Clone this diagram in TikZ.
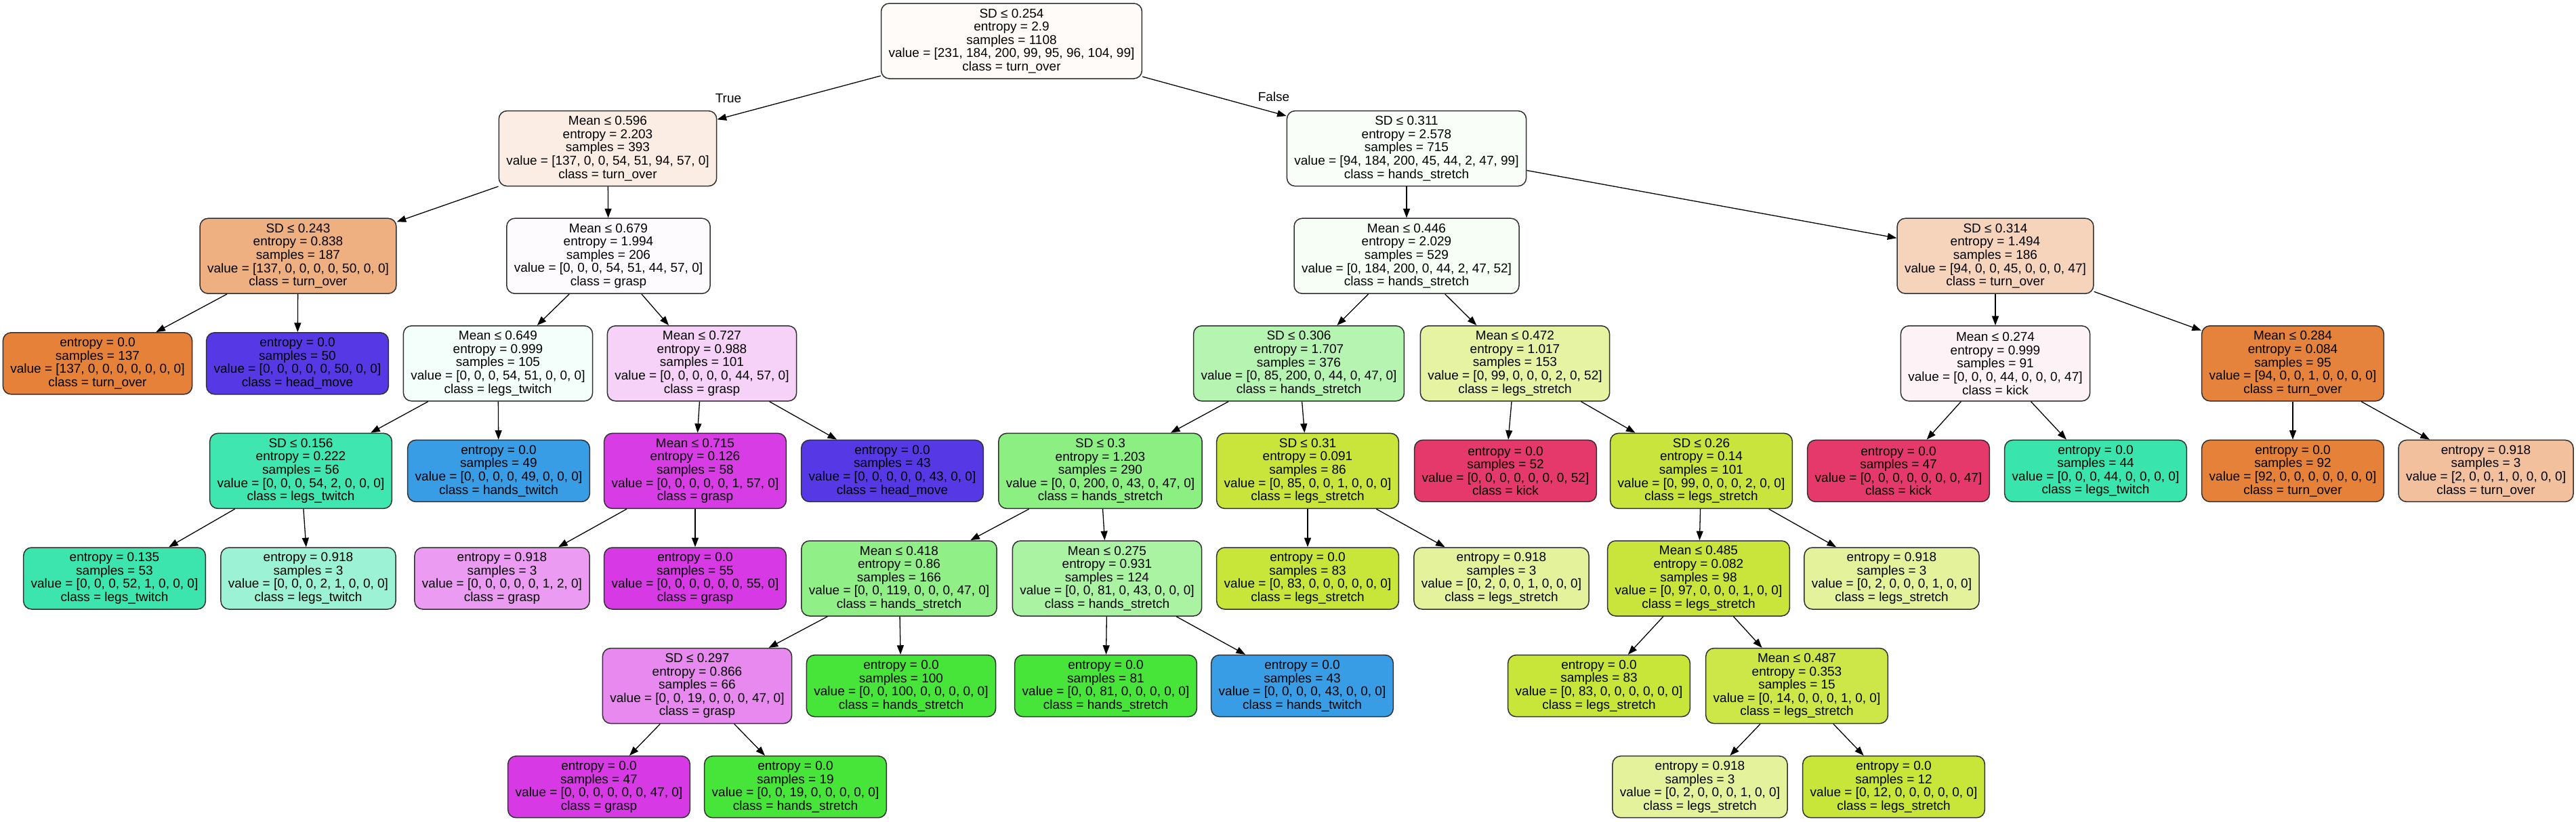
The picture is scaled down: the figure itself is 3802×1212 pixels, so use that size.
\documentclass[tikz,border=0pt]{standalone}
\usepackage{fontspec}
\setmainfont{Liberation Sans}
\usetikzlibrary{arrows.meta}
\definecolor{cR}{HTML}{FEFBF8}
\definecolor{cA}{HTML}{FBEDE3}
\definecolor{cB}{HTML}{F9FEF9}
\definecolor{cC}{HTML}{EEAF81}
\definecolor{cD}{HTML}{FEFBFE}
\definecolor{cE}{HTML}{F6FEF6}
\definecolor{cF}{HTML}{F6D4BC}
\definecolor{turn}{HTML}{E58139}
\definecolor{head}{HTML}{5639E5}
\definecolor{cG}{HTML}{F4FEFA}
\definecolor{cH}{HTML}{F6D2F9}
\definecolor{cI}{HTML}{B6F5B1}
\definecolor{cJ}{HTML}{E5F3A3}
\definecolor{cK}{HTML}{FDF2F6}
\definecolor{cL}{HTML}{E5823B}
\definecolor{cM}{HTML}{40E6AF}
\definecolor{htw}{HTML}{399DE5}
\definecolor{cN}{HTML}{D83CE5}
\definecolor{cO}{HTML}{8BEF82}
\definecolor{cP}{HTML}{C9E53B}
\definecolor{kick}{HTML}{E5396C}
\definecolor{cQ}{HTML}{C9E53D}
\definecolor{ltw}{HTML}{39E5AC}
\definecolor{cS}{HTML}{F2C09C}
\definecolor{cT}{HTML}{3DE5AE}
\definecolor{cU}{HTML}{9CF2D5}
\definecolor{cV}{HTML}{EB9CF2}
\definecolor{grasp}{HTML}{D739E5}
\definecolor{cW}{HTML}{90EF87}
\definecolor{cX}{HTML}{A9F3A2}
\definecolor{lst}{HTML}{C8E539}
\definecolor{cY}{HTML}{E4F29C}
\definecolor{cZ}{HTML}{E789EF}
\definecolor{hst}{HTML}{47E539}
\definecolor{cAA}{HTML}{CCE747}
\definecolor{bord}{HTML}{303030}
\begin{document}
\begin{tikzpicture}[x=0.5pt, y=-0.5pt,
  box/.style={draw=bord, line width=0.75pt, rounded corners=6pt, align=center,
    inner xsep=5.5pt, inner ysep=1pt, font=\fontsize{9.5}{9.8}\selectfont},
  dec/.style={box, minimum height=55.5pt},
  lf/.style={box, minimum height=45.5pt},
  edge/.style={draw=black, line width=0.65pt, -{Triangle[length=6.8pt,width=5pt]}},
  elab/.style={font=\fontsize{9.5}{9.8}\selectfont, inner sep=0pt}]
\path[use as bounding box, fill=white] (0,0) rectangle (3802,1212);

% level 0
\node[dec, fill=cR] (r) at (1493,60.5) {SD ≤ 0.254\\entropy = 2.9\\samples = 1108\\value = [231, 184, 200, 99, 95, 96, 104, 99]\\class = turn\_over};
% level 1
\node[dec, fill=cA] (n1) at (897,219.1) {Mean ≤ 0.596\\entropy = 2.203\\samples = 393\\value = [137, 0, 0, 54, 51, 94, 57, 0]\\class = turn\_over};
\node[dec, fill=cB] (n2) at (2076,219.1) {SD ≤ 0.311\\entropy = 2.578\\samples = 715\\value = [94, 184, 200, 45, 44, 2, 47, 99]\\class = hands\_stretch};
% level 2
\node[dec, fill=cC] (n3) at (440,377.7) {SD ≤ 0.243\\entropy = 0.838\\samples = 187\\value = [137, 0, 0, 0, 0, 50, 0, 0]\\class = turn\_over};
\node[dec, fill=cD] (n4) at (898,377.7) {Mean ≤ 0.679\\entropy = 1.994\\samples = 206\\value = [0, 0, 0, 54, 51, 44, 57, 0]\\class = grasp};
\node[dec, fill=cE] (n5) at (2076,377.7) {Mean ≤ 0.446\\entropy = 2.029\\samples = 529\\value = [0, 184, 200, 0, 44, 2, 47, 52]\\class = hands\_stretch};
\node[dec, fill=cF] (n6) at (2945,377.7) {SD ≤ 0.314\\entropy = 1.494\\samples = 186\\value = [94, 0, 0, 45, 0, 0, 0, 47]\\class = turn\_over};
% level 3
\node[lf, fill=turn] (n7) at (144,536.3) {entropy = 0.0\\samples = 137\\value = [137, 0, 0, 0, 0, 0, 0, 0]\\class = turn\_over};
\node[lf, fill=head] (n8) at (439,536.3) {entropy = 0.0\\samples = 50\\value = [0, 0, 0, 0, 0, 50, 0, 0]\\class = head\_move};
\node[dec, fill=cG] (n9) at (735,536.3) {Mean ≤ 0.649\\entropy = 0.999\\samples = 105\\value = [0, 0, 0, 54, 51, 0, 0, 0]\\class = legs\_twitch};
\node[dec, fill=cH] (n10) at (1036,536.3) {Mean ≤ 0.727\\entropy = 0.988\\samples = 101\\value = [0, 0, 0, 0, 0, 44, 57, 0]\\class = grasp};
\node[dec, fill=cI] (n11) at (1917,536.3) {SD ≤ 0.306\\entropy = 1.707\\samples = 376\\value = [0, 85, 200, 0, 44, 0, 47, 0]\\class = hands\_stretch};
\node[dec, fill=cJ] (n12) at (2236,536.3) {Mean ≤ 0.472\\entropy = 1.017\\samples = 153\\value = [0, 99, 0, 0, 0, 2, 0, 52]\\class = legs\_stretch};
\node[dec, fill=cK] (n13) at (2945,536.3) {Mean ≤ 0.274\\entropy = 0.999\\samples = 91\\value = [0, 0, 0, 44, 0, 0, 0, 47]\\class = kick};
\node[dec, fill=cL] (n14) at (3384,536.3) {Mean ≤ 0.284\\entropy = 0.084\\samples = 95\\value = [94, 0, 0, 1, 0, 0, 0, 0]\\class = turn\_over};
% level 4
\node[dec, fill=cM] (n15) at (444,694.9) {SD ≤ 0.156\\entropy = 0.222\\samples = 56\\value = [0, 0, 0, 54, 2, 0, 0, 0]\\class = legs\_twitch};
\node[lf, fill=htw] (n16) at (736,694.9) {entropy = 0.0\\samples = 49\\value = [0, 0, 0, 0, 49, 0, 0, 0]\\class = hands\_twitch};
\node[dec, fill=cN] (n17) at (1026,694.9) {Mean ≤ 0.715\\entropy = 0.126\\samples = 58\\value = [0, 0, 0, 0, 0, 1, 57, 0]\\class = grasp};
\node[lf, fill=head] (n18) at (1317,694.9) {entropy = 0.0\\samples = 43\\value = [0, 0, 0, 0, 0, 43, 0, 0]\\class = head\_move};
\node[dec, fill=cO] (n19) at (1624,694.9) {SD ≤ 0.3\\entropy = 1.203\\samples = 290\\value = [0, 0, 200, 0, 43, 0, 47, 0]\\class = hands\_stretch};
\node[dec, fill=cP] (n20) at (1930,694.9) {SD ≤ 0.31\\entropy = 0.091\\samples = 86\\value = [0, 85, 0, 0, 1, 0, 0, 0]\\class = legs\_stretch};
\node[lf, fill=kick] (n21) at (2222,694.9) {entropy = 0.0\\samples = 52\\value = [0, 0, 0, 0, 0, 0, 0, 52]\\class = kick};
\node[dec, fill=cQ] (n22) at (2511,694.9) {SD ≤ 0.26\\entropy = 0.14\\samples = 101\\value = [0, 99, 0, 0, 0, 2, 0, 0]\\class = legs\_stretch};
\node[lf, fill=kick] (n23) at (2802,694.9) {entropy = 0.0\\samples = 47\\value = [0, 0, 0, 0, 0, 0, 0, 47]\\class = kick};
\node[lf, fill=ltw] (n24) at (3093,694.9) {entropy = 0.0\\samples = 44\\value = [0, 0, 0, 44, 0, 0, 0, 0]\\class = legs\_twitch};
\node[lf, fill=turn] (n25) at (3384,694.9) {entropy = 0.0\\samples = 92\\value = [92, 0, 0, 0, 0, 0, 0, 0]\\class = turn\_over};
\node[lf, fill=cS] (n26) at (3669,694.9) {entropy = 0.918\\samples = 3\\value = [2, 0, 0, 1, 0, 0, 0, 0]\\class = turn\_over};
% level 5
\node[lf, fill=cT] (n27) at (169,853.5) {entropy = 0.135\\samples = 53\\value = [0, 0, 0, 52, 1, 0, 0, 0]\\class = legs\_twitch};
\node[lf, fill=cU] (n28) at (455,853.5) {entropy = 0.918\\samples = 3\\value = [0, 0, 0, 2, 1, 0, 0, 0]\\class = legs\_twitch};
\node[lf, fill=cV] (n29) at (741,853.5) {entropy = 0.918\\samples = 3\\value = [0, 0, 0, 0, 0, 1, 2, 0]\\class = grasp};
\node[lf, fill=grasp] (n30) at (1026,853.5) {entropy = 0.0\\samples = 55\\value = [0, 0, 0, 0, 0, 0, 55, 0]\\class = grasp};
\node[dec, fill=cW] (n31) at (1327,853.5) {Mean ≤ 0.418\\entropy = 0.86\\samples = 166\\value = [0, 0, 119, 0, 0, 0, 47, 0]\\class = hands\_stretch};
\node[dec, fill=cX] (n32) at (1634,853.5) {Mean ≤ 0.275\\entropy = 0.931\\samples = 124\\value = [0, 0, 81, 0, 43, 0, 0, 0]\\class = hands\_stretch};
\node[lf, fill=lst] (n33) at (1930,853.5) {entropy = 0.0\\samples = 83\\value = [0, 83, 0, 0, 0, 0, 0, 0]\\class = legs\_stretch};
\node[lf, fill=cY] (n34) at (2216,853.5) {entropy = 0.918\\samples = 3\\value = [0, 2, 0, 0, 1, 0, 0, 0]\\class = legs\_stretch};
\node[dec, fill=cP] (n35) at (2507,853.5) {Mean ≤ 0.485\\entropy = 0.082\\samples = 98\\value = [0, 97, 0, 0, 0, 1, 0, 0]\\class = legs\_stretch};
\node[lf, fill=cY] (n36) at (2792,853.5) {entropy = 0.918\\samples = 3\\value = [0, 2, 0, 0, 0, 1, 0, 0]\\class = legs\_stretch};
% level 6
\node[dec, fill=cZ] (n37) at (1029,1012.1) {SD ≤ 0.297\\entropy = 0.866\\samples = 66\\value = [0, 0, 19, 0, 0, 0, 47, 0]\\class = grasp};
\node[lf, fill=hst] (n38) at (1330,1012.1) {entropy = 0.0\\samples = 100\\value = [0, 0, 100, 0, 0, 0, 0, 0]\\class = hands\_stretch};
\node[lf, fill=hst] (n39) at (1632,1012.1) {entropy = 0.0\\samples = 81\\value = [0, 0, 81, 0, 0, 0, 0, 0]\\class = hands\_stretch};
\node[lf, fill=htw] (n40) at (1922,1012.1) {entropy = 0.0\\samples = 43\\value = [0, 0, 0, 0, 43, 0, 0, 0]\\class = hands\_twitch};
\node[lf, fill=lst] (n41) at (2360,1012.1) {entropy = 0.0\\samples = 83\\value = [0, 83, 0, 0, 0, 0, 0, 0]\\class = legs\_stretch};
\node[dec, fill=cAA] (n42) at (2652,1012.1) {Mean ≤ 0.487\\entropy = 0.353\\samples = 15\\value = [0, 14, 0, 0, 0, 1, 0, 0]\\class = legs\_stretch};
% level 7
\node[lf, fill=grasp] (n43) at (884,1161.2) {entropy = 0.0\\samples = 47\\value = [0, 0, 0, 0, 0, 0, 47, 0]\\class = grasp};
\node[lf, fill=hst] (n44) at (1174,1161.2) {entropy = 0.0\\samples = 19\\value = [0, 0, 19, 0, 0, 0, 0, 0]\\class = hands\_stretch};
\node[lf, fill=cY] (n45) at (2509,1161.2) {entropy = 0.918\\samples = 3\\value = [0, 2, 0, 0, 0, 1, 0, 0]\\class = legs\_stretch};
\node[lf, fill=lst] (n46) at (2795,1161.2) {entropy = 0.0\\samples = 12\\value = [0, 12, 0, 0, 0, 0, 0, 0]\\class = legs\_stretch};

% edge labels
\node[elab] (tlab) at (1075,145) {True};
\node[elab] (flab) at (1880,143) {False};

% edges
\foreach \p/\c in {r/n1, r/n2, n1/n3, n1/n4, n2/n5, n2/n6, n3/n7, n3/n8, n4/n9, n4/n10,
  n5/n11, n5/n12, n6/n13, n6/n14, n9/n15, n9/n16, n10/n17, n10/n18, n11/n19, n11/n20,
  n12/n21, n12/n22, n13/n23, n13/n24, n14/n25, n14/n26, n15/n27, n15/n28, n17/n29, n17/n30,
  n19/n31, n19/n32, n20/n33, n20/n34, n22/n35, n22/n36, n31/n37, n31/n38, n32/n39, n32/n40,
  n35/n41, n35/n42, n37/n43, n37/n44, n42/n45, n42/n46}
  \draw[edge] (\p) -- (\c);
\end{tikzpicture}
\end{document}
